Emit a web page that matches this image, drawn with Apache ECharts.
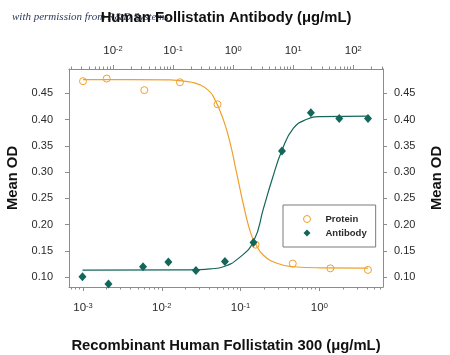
<!DOCTYPE html>
<html>
<head>
<meta charset="utf-8">
<script src="https://cdn.jsdelivr.net/npm/echarts@6/dist/echarts.min.js"></script>
<style>
html,body{margin:0;padding:0;background:#fff;}
#c{width:450px;height:355px;}
</style>
</head>
<body>
<div id="c"></div>
<script>
// ---- data ----
const proteinConc = [0.001, 0.002, 0.006, 0.017, 0.051, 0.155, 0.46, 1.38, 4.14];
const proteinOD   = [0.473, 0.478, 0.456, 0.471, 0.429, 0.162, 0.126, 0.117, 0.114];
const antibodyConc = [0.0031, 0.0084, 0.0316, 0.0835, 0.24, 0.73, 2.18, 6.5, 19.7, 58.4, 176];
const antibodyOD   = [0.101, 0.087, 0.120, 0.129, 0.113, 0.130, 0.166, 0.340, 0.413, 0.402, 0.402];
// fitted curves
const proteinFitConc = [0.001, 0.004, 0.0127, 0.0171, 0.0240, 0.0307, 0.0380, 0.0453, 0.0607, 0.0738, 0.0898, 0.109, 0.1325, 0.153, 0.1955, 0.289, 0.47, 1.03, 4.14];
const proteinFitOD   = [0.476, 0.476, 0.4755, 0.474, 0.471, 0.466, 0.457, 0.4436, 0.399, 0.355, 0.296, 0.2375, 0.187, 0.165, 0.142, 0.1266, 0.120, 0.118, 0.1175];
const antibodyFitConc = [0.0031, 0.131, 0.2417, 0.414, 0.689, 1.225, 2.18, 3.2, 4.42, 6.48, 10.1, 16.9, 28.2, 176];
const antibodyFitOD   = [0.1135, 0.114, 0.1145, 0.116, 0.120, 0.136, 0.168, 0.231, 0.285, 0.341, 0.3835, 0.4005, 0.4055, 0.4065];
// tick labels
const bottomTickLabels = [0.001, 0.01, 0.1, 1];
const topTickLabels = [0.01, 0.1, 1, 10, 100];
const yTickLabels = [0.10, 0.15, 0.20, 0.25, 0.30, 0.35, 0.40, 0.45];
const seriesNames = ['Protein', 'Antibody'];
const bottomTitle = 'Recombinant Human Follistatin 300 (\u03bcg/mL)';
const topTitle = 'Human Follistatin Antibody (\u03bcg/mL)';
const yTitle = 'Mean OD';
const watermark = 'with permission from R&D Systems';

// ---- styling ----
const FONT = '"Liberation Sans", Arial, sans-serif';
const ORANGE = '#F1A02B';
const TEAL = '#12665A';
const AXIS = '#8c8c8c';
const TXT = '#2a2a2a';

function zip(a, b) { return a.map((v, i) => [v, b[i]]); }
function minorValues(lo, hi) {
  const out = [];
  for (let e = Math.floor(Math.log10(lo)); e <= Math.ceil(Math.log10(hi)); e++) {
    for (let m = 2; m <= 9; m++) {
      const v = m * Math.pow(10, e);
      if (v >= lo && v <= hi) out.push(v);
    }
  }
  return out;
}
const powLabel = v => '{b|10}{s|' + Math.round(Math.log10(v)) + '}';
const richPow = {
  b: { fontFamily: FONT, fontSize: 11.5, color: TXT },
  s: { fontFamily: FONT, fontSize: 7.5, color: TXT, verticalAlign: 'top' }
};
const nameStyle = { fontFamily: FONT, fontSize: 14.8, fontWeight: 'bold', color: '#111' };

const bMin = 0.000664, bMax = 6.43;
const tMin = 0.00185, tMax = 312.6;

function logAxis(pos, min, max, majors, opts) {
  return Object.assign({
    type: 'log', logBase: 10, position: pos, min: min, max: max,
    gridIndex: 0,
    axisLine: { show: true, lineStyle: { color: AXIS, width: 1 } },
    axisTick: { show: true, inside: false, length: 4, lineStyle: { color: AXIS }, customValues: majors },
    axisLabel: { show: true, customValues: majors, formatter: powLabel, rich: richPow },
    splitLine: { show: false },
    nameLocation: 'middle',
    nameTextStyle: nameStyle
  }, opts);
}

const chart = echarts.init(document.getElementById('c'), null, { renderer: 'canvas' });
chart.setOption({
  animation: false,
  backgroundColor: '#fff',
  textStyle: { fontFamily: FONT },
  grid: { left: 69, right: 67, top: 69, bottom: 68, containLabel: false, outerBoundsMode: 'none' },
  graphic: [{
    type: 'text', left: 12, top: 12, z: 0,
    style: { text: watermark, font: 'italic 11px "Liberation Serif", serif', fill: '#2c3a5c' }
  }],
  legend: {
    data: seriesNames,
    orient: 'vertical',
    left: 283, top: 205,
    padding: [9, 9, 9, 20],
    itemWidth: 7, itemHeight: 7, itemGap: 4,
    itemStyle: { borderWidth: 1 },
    borderColor: '#7a7a7a', borderWidth: 1,
    textStyle: { fontFamily: FONT, fontSize: 9.5, fontWeight: 'bold', color: TXT, padding: [0, 0, 0, 10] }
  },
  xAxis: [
    logAxis('bottom', bMin, bMax, bottomTickLabels, {
      name: bottomTitle, nameGap: 51,
      axisLabel: { show: true, customValues: bottomTickLabels, formatter: powLabel, rich: richPow, margin: 15 }
    }),
    logAxis('top', tMin, tMax, topTickLabels, {
      name: topTitle, nameGap: 44,
      axisLabel: { show: true, customValues: topTickLabels, formatter: powLabel, rich: richPow, margin: 12 }
    }),
    logAxis('bottom', bMin, bMax, [], {
      axisLine: { show: false },
      axisTick: { show: true, length: 2.5, lineStyle: { color: AXIS }, customValues: minorValues(bMin, bMax) },
      axisLabel: { show: false }
    }),
    logAxis('top', tMin, tMax, [], {
      axisLine: { show: false },
      axisTick: { show: true, length: 2.5, lineStyle: { color: AXIS }, customValues: minorValues(tMin, tMax) },
      axisLabel: { show: false }
    })
  ],
  yAxis: [
    {
      type: 'value', position: 'left', min: 0.0815, max: 0.4962,
      axisLine: { show: true, lineStyle: { color: AXIS } },
      axisTick: { show: true, length: 4, lineStyle: { color: AXIS }, customValues: yTickLabels },
      axisLabel: { customValues: yTickLabels, formatter: v => v.toFixed(2), margin: 16,
        fontFamily: FONT, fontSize: 11, color: TXT },
      splitLine: { show: false },
      name: yTitle, nameLocation: 'middle', nameGap: 44,
      nameTextStyle: nameStyle
    },
    {
      type: 'value', position: 'right', min: 0.0815, max: 0.4962,
      axisLine: { show: true, lineStyle: { color: AXIS } },
      axisTick: { show: true, length: 4, lineStyle: { color: AXIS }, customValues: yTickLabels },
      axisLabel: { customValues: yTickLabels, formatter: v => v.toFixed(2), margin: 11,
        fontFamily: FONT, fontSize: 11, color: TXT },
      splitLine: { show: false },
      name: yTitle, nameLocation: 'middle', nameGap: 46, nameRotate: 90,
      nameTextStyle: nameStyle
    }
  ],
  series: [
    {
      name: 'Protein fit', type: 'line', xAxisIndex: 0, yAxisIndex: 0,
      data: zip(proteinFitConc, proteinFitOD), showSymbol: false, symbol: 'none',
      smooth: 0.5,
      lineStyle: { color: ORANGE, width: 1.2 }, z: 2, silent: true
    },
    {
      name: 'Antibody fit', type: 'line', xAxisIndex: 1, yAxisIndex: 0,
      data: zip(antibodyFitConc, antibodyFitOD), showSymbol: false, symbol: 'none',
      smooth: 0.5,
      lineStyle: { color: TEAL, width: 1.2 }, z: 2, silent: true
    },
    {
      name: 'Protein', type: 'scatter', xAxisIndex: 0, yAxisIndex: 0,
      data: zip(proteinConc, proteinOD),
      symbol: 'circle', symbolSize: 7,
      itemStyle: { color: 'rgba(255,255,255,0)', borderColor: ORANGE, borderWidth: 1, opacity: 1 }, z: 3
    },
    {
      name: 'Antibody', type: 'scatter', xAxisIndex: 1, yAxisIndex: 0,
      data: zip(antibodyConc, antibodyOD),
      symbol: 'diamond', symbolSize: [8, 9],
      itemStyle: { color: TEAL, opacity: 1 }, z: 3
    }
  ]
});
</script>
</body>
</html>
